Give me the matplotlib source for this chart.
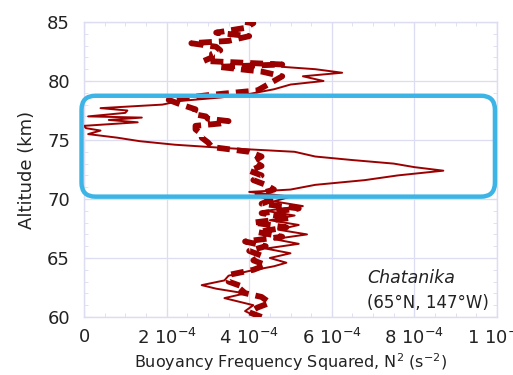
import matplotlib
matplotlib.use("Agg")
import matplotlib.pyplot as plt
from matplotlib.patches import FancyBboxPatch
import numpy as np

# Solid profile: altitude (km) and N^2 (units of 1e-4 s^-2)
solid_alt = [60.0, 60.5, 61.0, 61.6, 62.0, 62.4, 62.7, 63.1, 63.5, 63.9, 64.3, 64.6,
             65.0, 65.4, 65.8, 66.2, 66.6, 67.0, 67.4, 67.8, 68.2, 68.6, 69.0, 69.4,
             69.8, 70.2, 70.6, 70.8, 71.2, 71.6, 72.0, 72.4, 72.7, 73.0, 73.3, 73.6,
             74.0, 74.3, 74.6, 74.9, 75.2, 75.5, 75.8, 76.0, 76.2, 76.5, 76.7, 76.9,
             77.0, 77.3, 77.5, 77.7, 78.0, 78.3, 78.6, 78.9, 79.3, 79.7, 80.0, 80.4,
             80.7, 81.0, 81.2]
solid_n2 = [4.2, 3.9, 4.1, 3.4, 3.9, 3.2, 2.85, 3.4, 3.5, 4.0, 4.6, 4.9,
            4.5, 5.0, 4.4, 5.2, 4.6, 5.4, 4.7, 5.2, 4.5, 5.1, 4.4, 5.3,
            4.6, 5.0, 4.0, 5.0, 5.6, 6.8, 7.6, 8.7, 8.0, 7.5, 6.5, 5.6,
            5.1, 3.5, 2.2, 1.35, 0.8, 0.1, 0.4, 0.05, 0.0, 1.3, 0.6, 1.4,
            0.1, 1.0, 1.05, 0.4, 1.9, 2.3, 3.3, 4.0, 4.6, 5.0, 5.8, 5.3,
            6.25, 5.6, 4.8]

# Dashed profile
dashed_alt = [60.0, 60.4, 60.8, 61.2, 61.7, 62.1, 62.5, 63.0, 63.6, 64.0, 64.4, 64.8,
              65.2, 65.6, 66.0, 66.4, 66.8, 67.2, 67.6, 68.0, 68.4, 68.8, 69.2, 69.6,
              70.0, 70.4, 70.8, 71.2, 71.6, 72.0, 72.4, 72.8, 73.2, 73.6, 74.0, 74.4,
              74.8, 75.2, 75.5, 75.9, 76.2, 76.4, 76.6, 76.8, 77.0, 77.2, 77.6, 78.0,
              78.4, 78.8, 79.2, 79.6, 80.0, 80.4, 80.8, 81.2, 81.4, 81.7, 82.0, 82.3,
              82.6, 82.9, 83.2, 83.4, 83.8, 84.1, 84.5, 84.9, 85.0]
dashed_n2 = [4.3, 4.0, 4.2, 4.5, 4.3, 3.8, 3.9, 3.5, 3.55, 4.1, 4.4, 4.1,
             4.3, 4.0, 4.4, 3.9, 4.8, 4.2, 4.9, 4.1, 5.0, 4.3, 5.2, 4.3,
             4.6, 4.2, 4.6, 4.4, 4.1, 4.3, 4.0, 4.3, 4.1, 4.3, 4.0, 3.1,
             3.0, 2.85, 2.85, 2.7, 2.7, 3.3, 3.5, 3.0, 2.95, 2.65, 2.7, 2.35,
             2.05, 3.0, 4.2, 4.4, 4.6, 4.8, 4.3, 3.25, 4.8, 2.9, 3.1, 3.1,
             3.3, 3.2, 2.6, 3.5, 4.0, 3.2, 3.9, 4.1, 3.9]

x_ticks = [0, 2e-4, 4e-4, 6e-4, 8e-4, 1e-3]
x_ticklabels = ["0", r"2 10$^{-4}$", r"4 10$^{-4}$", r"6 10$^{-4}$", r"8 10$^{-4}$", r"1 10$^{-3}$"]
y_ticks = [60, 65, 70, 75, 80, 85]

W, H = 513, 375
fig = plt.figure(figsize=(W / 100, H / 100), dpi=100)
ax = fig.add_axes([84 / W, 1 - 317 / H, (497 - 84) / W, (317 - 22) / H])

red = "#9b0000"
ax.plot(np.array(solid_n2) * 1e-4, solid_alt, color=red, lw=1.4, zorder=3)
ax.plot(np.array(dashed_n2) * 1e-4, dashed_alt, color=red, lw=4.2,
        dashes=(2.2, 1.2), zorder=3)

ax.set_xlim(0, 1e-3)
ax.set_ylim(60, 85)
ax.set_xticks(x_ticks)
ax.set_xticklabels(x_ticklabels)
ax.set_yticks(y_ticks)
ax.set_xticks(np.arange(0, 1.0001e-3, 0.5e-4), minor=True)
ax.set_yticks(np.arange(60, 85.1, 1), minor=True)

gc = "#dcdcf2"
ax.grid(True, which="major", color=gc, lw=0.9)
for s in ax.spines.values():
    s.set_color(gc)
    s.set_linewidth(1.0)
ax.tick_params(which="both", direction="in", top=True, right=True, color=gc,
               labelsize=13, labelcolor="#222222")
ax.tick_params(which="major", length=5)
ax.tick_params(which="minor", length=3)
ax.tick_params(axis="x", pad=8)
ax.tick_params(axis="y", pad=10)

ax.set_ylabel("Altitude (km)", fontsize=13, color="#222222", labelpad=8)
ax.set_xlabel(r"Buoyancy Frequency Squared, N$^2$ (s$^{-2}$)", fontsize=11.5,
              color="#222222", labelpad=2)

# Highlight box (rounded)
x0, x1 = -0.6e-5, 0.995e-3
y0, y1 = 70.2, 78.75
px_x = 1e-3 / 413
px_y = 25 / 295
box = FancyBboxPatch((x0, y0), x1 - x0, y1 - y0,
                     boxstyle=f"round,pad=0,rounding_size={14 * px_x}",
                     mutation_aspect=px_y / px_x,
                     fill=False, ec="#3cb4e5", lw=3.2, clip_on=False, zorder=4)
ax.add_patch(box)

ax.text(0.685, 0.132, "Chatanika", transform=ax.transAxes, fontsize=12.5,
        style="italic", color="#222222", va="center")
ax.text(0.685, 0.047, "(65°N, 147°W)", transform=ax.transAxes, fontsize=12,
        color="#222222", va="center")

fig.savefig("out.png", dpi=100, facecolor="white")
